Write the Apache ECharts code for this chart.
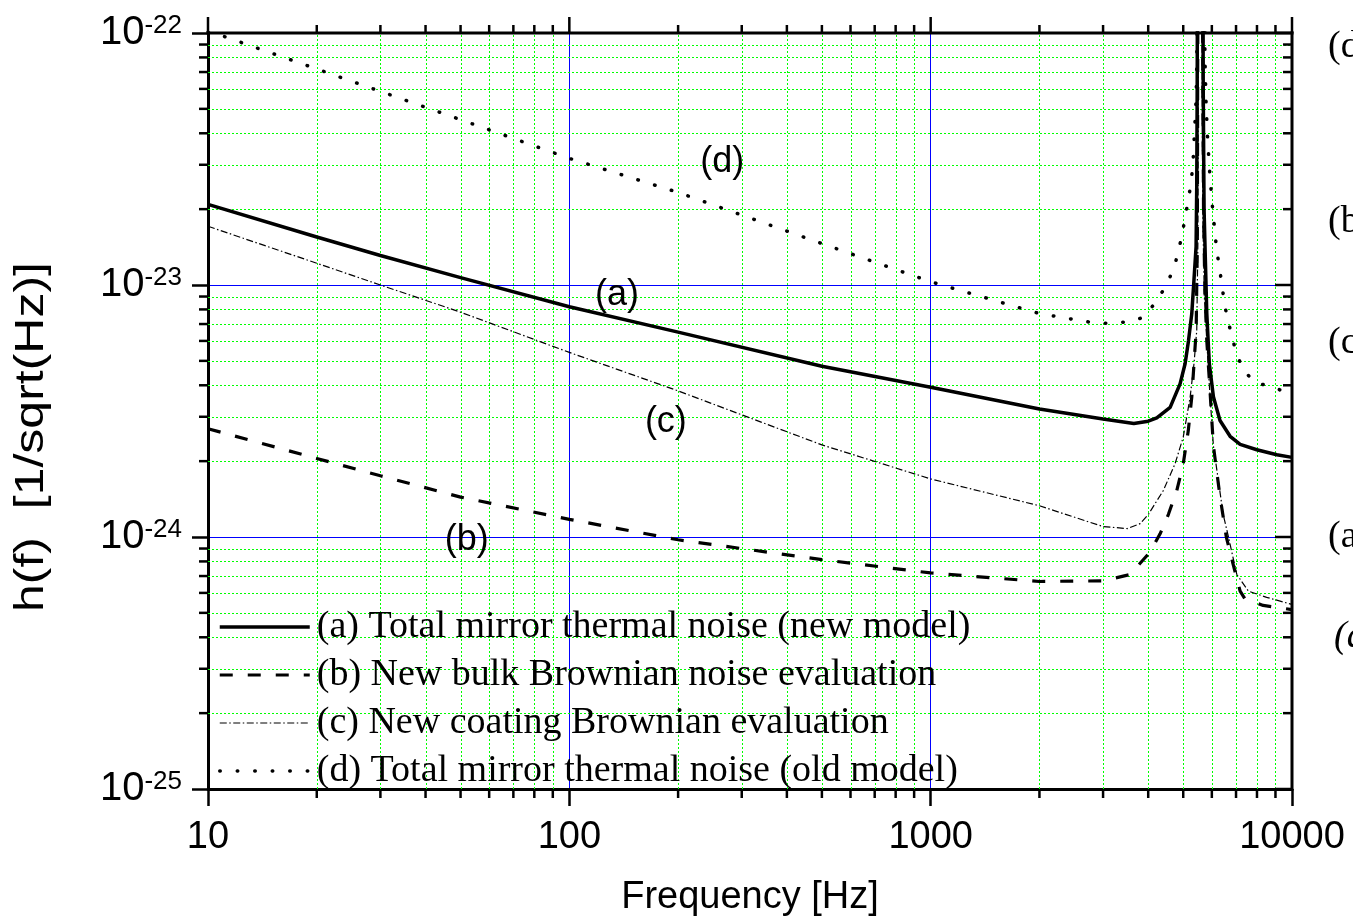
<!DOCTYPE html>
<html>
<head>
<meta charset="utf-8">
<script src="https://cdn.jsdelivr.net/npm/echarts@6.0.0/dist/echarts.min.js"></script>
<style>
  html, body { margin: 0; padding: 0; background: #fff; }
  #chart { width: 1353px; height: 924px; }
</style>
</head>
<body>
<div id="chart"></div>
<script>
// ---------- data ----------
const seriesNames = [
  '(a) Total mirror thermal noise (new model)',
  '(b) New bulk Brownian noise evaluation',
  '(c) New coating Brownian evaluation',
  '(d) Total mirror thermal noise (old model)'
];

const freqA = [10, 20, 30, 50, 100, 200, 500, 1000, 2000, 3000, 3650, 4000, 4225, 4600, 4900, 5060, 5170, 5280, 5355, 5427, 5450, 5465, 5480, 5660, 5680, 5710, 5750, 5810, 5905, 6060, 6320, 6740, 7185, 7990, 9080, 10000];
const hA = [2.09e-23, 1.55e-23, 1.31e-23, 1.07e-23, 8.2e-24, 6.5e-24, 4.76e-24, 3.93e-24, 3.22e-24, 2.94e-24, 2.82e-24, 2.88e-24, 2.97e-24, 3.27e-24, 4.05e-24, 4.87e-24, 6.0e-24, 7.7e-24, 1.05e-23, 1.42e-23, 2.5e-23, 6e-23, 3e-22, 3e-22, 6e-23, 2e-23, 1.35e-23, 7.7e-24, 4.87e-24, 3.6e-24, 2.9e-24, 2.51e-24, 2.33e-24, 2.22e-24, 2.12e-24, 2.07e-24];

const freqB = [10, 20, 30, 50, 100, 200, 500, 1000, 2000, 3000, 3565, 4045, 4315, 4550, 4800, 5000, 5165, 5280, 5355, 5430, 5470, 5495, 5640, 5690, 5740, 5810, 5905, 6060, 6320, 6580, 6870, 7185, 7400, 8320, 10000];
const hB = [2.69e-24, 2.05e-24, 1.75e-24, 1.44e-24, 1.175e-24, 9.75e-25, 8.13e-25, 7.2e-25, 6.66e-25, 6.7e-25, 7.1e-25, 8.7e-25, 1.03e-24, 1.23e-24, 1.53e-24, 1.95e-24, 2.65e-24, 3.59e-24, 4.87e-24, 6.6e-24, 1.5e-23, 3e-22, 3e-22, 2e-23, 9.5e-24, 6e-24, 4.2e-24, 2.3e-24, 1.45e-24, 1.0e-24, 7.8e-25, 6.1e-25, 5.7e-25, 5.35e-25, 5.15e-25];

const freqC = [10, 20, 30, 50, 100, 200, 500, 1000, 2000, 3000, 3500, 3800, 4005, 4405, 4745, 5000, 5225, 5355, 5450, 5490, 5515, 5620, 5660, 5720, 5810, 5905, 6060, 6450, 6670, 7035, 7575, 8510, 10000];
const hC = [1.71e-23, 1.22e-23, 1.0e-23, 7.8e-24, 5.4e-24, 3.8e-24, 2.32e-24, 1.7e-24, 1.33e-24, 1.10e-24, 1.08e-24, 1.13e-24, 1.23e-24, 1.53e-24, 1.95e-24, 2.49e-24, 3.59e-24, 4.87e-24, 6.6e-24, 1.5e-23, 3e-22, 3e-22, 2e-23, 9e-24, 6e-24, 4e-24, 2.3e-24, 1.23e-24, 1.0e-24, 7.1e-25, 6.1e-25, 5.76e-25, 5.4e-25];

const freqD = [10, 20, 50, 100, 200, 500, 1000, 2000, 2790, 3040, 3475, 3840, 4225, 4500, 4720, 4850, 4975, 5060, 5170, 5245, 5315, 5370, 5425, 5450, 5480, 5690, 5750, 5780, 5830, 5905, 6000, 6060, 6190, 6300, 6400, 6490, 6625, 6815, 7000, 7330, 7900, 8790, 9670, 10000];
const hD = [1.02e-22, 7.2e-23, 4.53e-23, 3.18e-23, 2.33e-23, 1.46e-23, 1.03e-23, 7.7e-24, 7.1e-24, 7.05e-24, 7.13e-24, 7.4e-24, 8.6e-24, 1.01e-23, 1.17e-23, 1.37e-23, 1.6e-23, 1.87e-23, 2.17e-23, 2.53e-23, 2.94e-23, 4.0e-23, 5.4e-23, 7.35e-23, 2e-22, 2e-22, 7.35e-23, 5.4e-23, 4.0e-23, 2.94e-23, 2.17e-23, 1.87e-23, 1.37e-23, 1.17e-23, 1.0e-23, 8.6e-24, 7.35e-24, 6.3e-24, 5.4e-24, 4.6e-24, 4.1e-24, 3.95e-24, 3.74e-24, 3.7e-24];

// in-plot curve labels: [text, frequency, h]
const curveLabels = [
  ['(d)', 265, 3.07e-23],
  ['(a)', 135.5, 9.1e-24],
  ['(c)', 185, 2.85e-24],
  ['(b)', 52, 9.7e-25]
];

// axis ranges and tick values
const xRange = [10, 10000];
const yRange = [1e-25, 1e-22];
const xMajorTicks = [10, 100, 1000, 10000];
const xMinorTicks = [20, 30, 40, 50, 60, 70, 80, 90, 200, 300, 400, 500, 600, 700, 800, 900, 2000, 3000, 4000, 5000, 6000, 7000, 8000, 9000];
const yMajorExponents = [-25, -24, -23, -22];
const yMinorMantissas = [2, 3, 4, 5, 6, 7, 8, 9];

// clipped text at the right edge of the figure: [text, y, italic]
const edgeTexts = [['(d)', 47, false], ['(b)', 222, false], ['(c)', 343, false], ['(a)', 537, false], ['(a)', 637, true]];

// ---------- build ----------
// y values are plotted in units of 1e-25 (pure unit change, keeps the log axis numerically safe)
const UNIT_EXP = -25;
const toU = h => h / Math.pow(10, UNIT_EXP);
const yRangeU = yRange.map(toU);
const yMajorU = yMajorExponents.map(e => Math.pow(10, e - UNIT_EXP));
const yMinorU = [];
yMajorExponents.slice(0, -1).forEach(e => yMinorMantissas.forEach(m => yMinorU.push(m * Math.pow(10, e - UNIT_EXP))));

const pairs = (f, h) => f.map((v, i) => [v, toU(h[i])]);

const SANS = 'Liberation Sans';
const SERIF = 'Liberation Serif';
const BLACK = '#000000';

const lineStyles = [
  { color: BLACK, width: 3.5, type: 'solid', cap: 'butt' },
  { color: BLACK, width: 3.2, type: [13, 15], cap: 'butt' },
  { color: BLACK, width: 1.2, type: [7, 2.5, 1.5, 2.5], cap: 'butt' },
  { color: BLACK, width: 3.5, type: [0.5, 17], cap: 'round' }
];
const allData = [pairs(freqA, hA), pairs(freqB, hB), pairs(freqC, hC), pairs(freqD, hD)];
const labelFor = ['(a)', '(b)', '(c)', '(d)'];

const crisp = v => Math.round(v) + 0.5;

// minor grid (green dotted) drawn through the axis scales
function renderGrid(params, api) {
  const children = [];
  const yb = api.coord([xRange[0], yRangeU[0]])[1];
  const yt = api.coord([xRange[0], yRangeU[1]])[1];
  const xl = api.coord([xRange[0], yRangeU[0]])[0];
  const xr = api.coord([xRange[1], yRangeU[0]])[0];
  const st = { stroke: '#00ff00', lineWidth: 1, lineDash: [2, 2] };
  xMinorTicks.forEach(v => {
    const x = crisp(api.coord([v, yRangeU[0]])[0]);
    children.push({ type: 'line', shape: { x1: x, y1: yb, x2: x, y2: yt }, style: st });
  });
  yMinorU.forEach(v => {
    const y = crisp(api.coord([xRange[0], v])[1]);
    children.push({ type: 'line', shape: { x1: xl, y1: y, x2: xr, y2: y }, style: st });
  });
  return { type: 'group', children: children };
}

// frame: top & right axis lines, and all ticks that the main axes do not draw
function renderFrame(params, api) {
  const children = [];
  const [xl, yb] = api.coord([xRange[0], yRangeU[0]]);
  const [xr, yt] = api.coord([xRange[1], yRangeU[1]]);
  const tk = { stroke: BLACK, lineWidth: 2.5 };
  const ln = { stroke: BLACK, lineWidth: 3 };
  children.push({ type: 'line', shape: { x1: xl - 1.5, y1: yt, x2: xr + 1.5, y2: yt }, style: ln });
  children.push({ type: 'line', shape: { x1: xr, y1: yt - 1.5, x2: xr, y2: yb + 1.5 }, style: ln });
  // top: major outward 16, minor outward 8
  xMajorTicks.forEach(v => {
    const x = api.coord([v, yRangeU[0]])[0];
    children.push({ type: 'line', shape: { x1: x, y1: yt, x2: x, y2: yt - 16 }, style: tk });
  });
  xMinorTicks.forEach(v => {
    const x = api.coord([v, yRangeU[0]])[0];
    children.push({ type: 'line', shape: { x1: x, y1: yt, x2: x, y2: yt - 8 }, style: tk });
    children.push({ type: 'line', shape: { x1: x, y1: yb, x2: x, y2: yb + 9 }, style: tk });
  });
  // right: major inward 17, minor inward 9; left minor outward 9
  yMajorU.forEach(v => {
    const y = api.coord([xRange[0], v])[1];
    children.push({ type: 'line', shape: { x1: xr, y1: y, x2: xr - 17, y2: y }, style: tk });
  });
  yMinorU.forEach(v => {
    const y = api.coord([xRange[0], v])[1];
    children.push({ type: 'line', shape: { x1: xr, y1: y, x2: xr - 9, y2: y }, style: tk });
    children.push({ type: 'line', shape: { x1: xl, y1: y, x2: xl - 9, y2: y }, style: tk });
  });
  return { type: 'group', children: children };
}

const series = allData.map((d, i) => {
  const lbl = curveLabels.find(c => c[0] === labelFor[i]);
  return {
    name: seriesNames[i], type: 'line', data: d, z: 3,
    symbol: 'none', showSymbol: false, smooth: false, clip: true,
    lineStyle: lineStyles[i], itemStyle: { color: BLACK },
    emphasis: { disabled: true },
    markPoint: {
      symbol: 'circle', symbolSize: 0, silent: true, animation: false,
      itemStyle: { color: 'rgba(0,0,0,0)' },
      label: { show: true, position: 'inside', color: BLACK, fontSize: 36, fontFamily: SANS,
        formatter: lbl[0] },
      data: [{ coord: [lbl[1], toU(lbl[2])] }]
    }
  };
});

series.unshift({
  name: 'minor-grid', type: 'custom', z: 1, silent: true, clip: false,
  data: [[xRange[0], yRangeU[0]]], renderItem: renderGrid
});
series.push({
  name: 'frame', type: 'custom', z: 5, silent: true, clip: false,
  data: [[xRange[0], yRangeU[0]]], renderItem: renderFrame
});

const chart = echarts.init(document.getElementById('chart'), null, { renderer: 'canvas' });
chart.setOption({
  animation: false,
  backgroundColor: '#ffffff',
  grid: { left: 208, right: 61, top: 33, bottom: 135, containLabel: false, outerBoundsMode: 'none' },
  xAxis: {
    type: 'log', logBase: 10, min: xRange[0], max: xRange[1], position: 'bottom',
    axisLine: { show: true, lineStyle: { color: BLACK, width: 3 } },
    axisTick: { show: true, inside: false, length: 17, lineStyle: { color: BLACK, width: 2.5 } },
    splitLine: { show: true, lineStyle: { color: '#0000ff', width: 1 } },
    minorTick: { show: false }, minorSplitLine: { show: false },
    axisLabel: { show: true, margin: 30, color: BLACK, fontSize: 38, fontFamily: SANS,
      showMinLabel: true, showMaxLabel: true, formatter: v => String(Math.round(v)) },
    name: 'Frequency [Hz]', nameLocation: 'middle', nameGap: 90,
    nameTextStyle: { color: BLACK, fontSize: 38, fontFamily: SANS }
  },
  yAxis: {
    type: 'log', logBase: 10, min: yRangeU[0], max: yRangeU[1], position: 'left',
    axisLine: { show: true, lineStyle: { color: BLACK, width: 3 } },
    axisTick: { show: true, inside: false, length: 16, lineStyle: { color: BLACK, width: 2.5 } },
    splitLine: { show: true, lineStyle: { color: '#0000ff', width: 1 } },
    minorTick: { show: false }, minorSplitLine: { show: false },
    axisLabel: { show: true, margin: 26, padding: [0, 0, 0, 0],
      showMinLabel: true, showMaxLabel: true,
      formatter: v => '{b|10}{s|' + (Math.round(Math.log10(v)) + UNIT_EXP) + '}',
      rich: {
        b: { fontSize: 40, fontFamily: SANS, color: BLACK, lineHeight: 40, verticalAlign: 'bottom' },
        s: { fontSize: 26, fontFamily: SANS, color: BLACK, lineHeight: 26, verticalAlign: 'top', padding: [0, 0, 26, 0] }
      } }
  },
  legend: {
    data: seriesNames.map((n, i) => ({ name: n, lineStyle: Object.assign({}, lineStyles[i]) })),
    orient: 'vertical', left: 218, top: 607, padding: 0,
    itemWidth: 90, itemHeight: 14, itemGap: 8, selectedMode: false,
    itemStyle: { opacity: 0 },
    textStyle: { color: BLACK, fontSize: 38, fontFamily: SERIF, lineHeight: 40, padding: [0, 0, 0, 2] }
  },
  graphic: [{
    type: 'text', x: 32, y: 437, rotation: Math.PI / 2, scaleX: 1.25, scaleY: 1, silent: true,
    style: { text: 'h(f)  [1/sqrt(Hz)]', fill: BLACK, font: '40px "' + SANS + '"',
      align: 'center', verticalAlign: 'middle' }
  }].concat(edgeTexts.map(t => ({
    type: 'text', x: 1328 + (t[2] ? 6 : 0), y: t[1], silent: true,
    style: { text: t[0], fill: BLACK, font: (t[2] ? 'italic ' : '') + '38px "' + SERIF + '"',
      align: 'left', verticalAlign: 'middle' }
  }))),
  series: series
});
</script>
</body>
</html>
